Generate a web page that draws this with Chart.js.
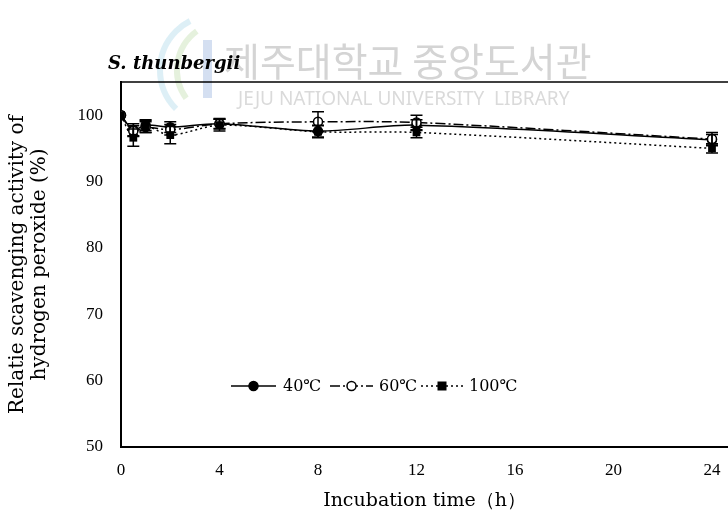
<!DOCTYPE html>
<html>
<head>
<meta charset="utf-8">
<script src="https://cdn.jsdelivr.net/npm/chart.js@4"></script>
<style>
  html, body { margin: 0; padding: 0; background: #fff; overflow: hidden; }
  #wrap { width: 728px; height: 516px; overflow: hidden; }
</style>
</head>
<body>
<div id="wrap"><canvas id="chart" width="734" height="516"></canvas></div>
<script>
// incubation time (h) and relative scavenging activity (%)
const hours = [0, 0.5, 1, 2, 4, 8, 12, 24];
const t40 = [100, 97.8, 98.5, 98.2, 98.7, 97.6, 98.5, 96.3];
const t60 = [100, 97.6, 98.2, 97.8, 98.7, 99.0, 98.9, 96.4];
const t100 = [100, 96.6, 98.3, 97.0, 98.5, 97.5, 97.4, 95.0];
const err40 = [0, 0.9, 0.8, 0.8, 0.7, 0.9, 0.8, 0.8];
const err60 = [0, 0.8, 0.8, 0.8, 0.8, 1.5, 1.1, 1.0];
const err100 = [0, 1.3, 0.9, 1.3, 0.9, 0.9, 0.8, 0.7];
const xTicks = [0, 4, 8, 12, 16, 20, 24];
const yTicks = [50, 60, 70, 80, 90, 100];
const seriesNames = ["40℃", "60℃", "100℃"];

const serif = "'DejaVu Serif', 'Liberation Serif', serif";
const tickFont = "'Liberation Serif', serif";

function pts(vals) {
    return hours.map((h, i) => ({ x: h, y: vals[i] }));
}

// watermark + title behind the chart
const backdrop = {
    id: "backdrop",
    beforeDraw(chart) {
        const ctx = chart.ctx;
        ctx.save();
        ctx.fillStyle = "#fff";
        ctx.fillRect(0, 0, chart.width, chart.height);
        // faint logo arcs
        ctx.lineWidth = 6;
        ctx.strokeStyle = "rgba(120,190,220,0.25)";
        ctx.beginPath();
        ctx.arc(215, 70, 55, Math.PI * 0.75, Math.PI * 1.35);
        ctx.stroke();
        ctx.strokeStyle = "rgba(150,200,120,0.25)";
        ctx.beginPath();
        ctx.arc(225, 70, 48, Math.PI * 0.8, Math.PI * 1.3);
        ctx.stroke();
        ctx.fillStyle = "rgba(60,110,190,0.22)";
        ctx.fillRect(203, 40, 9, 58);
        ctx.fillStyle = "#d4d4d4";
        ctx.font = "39px 'Noto Sans CJK KR'";
        ctx.textBaseline = "alphabetic";
        ctx.fillText("제주대학교 중앙도서관", 224, 76);
        ctx.fillStyle = "#dadada";
        ctx.font = "19px 'Noto Sans', sans-serif";
        ctx.fillText("JEJU NATIONAL UNIVERSITY  LIBRARY", 238, 105);
        ctx.restore();
        // species title
        ctx.save();
        ctx.fillStyle = "#000";
        ctx.font = "italic bold 18px " + serif;
        ctx.fillText("S. thunbergii", 108, 69);
        ctx.restore();
    }
};

// error bars with caps
const errorBars = {
    id: "errorBars",
    afterDatasetsDraw(chart) {
        const ctx = chart.ctx;
        const errs = [err40, err60, err100];
        const ys = chart.scales.y;
        ctx.save();
        ctx.strokeStyle = "#000";
        ctx.lineWidth = 1.5;
        chart.data.datasets.forEach((ds, di) => {
            const meta = chart.getDatasetMeta(di);
            meta.data.forEach((p, i) => {
                const e = errs[di][i];
                if (!e) return;
                const v = ds.data[i].y;
                const top = ys.getPixelForValue(v + e);
                const bot = ys.getPixelForValue(v - e);
                ctx.beginPath();
                ctx.moveTo(p.x, top); ctx.lineTo(p.x, bot);
                ctx.moveTo(p.x - 6, top); ctx.lineTo(p.x + 6, top);
                ctx.moveTo(p.x - 6, bot); ctx.lineTo(p.x + 6, bot);
                ctx.stroke();
            });
        });
        ctx.restore();
    }
};

// legend inside the plot
const innerLegend = {
    id: "innerLegend",
    afterDraw(chart) {
        const ctx = chart.ctx;
        const y = 386;
        const items = [
            { x0: 231, x1: 276, dash: [], style: "circle", fill: "#000", tx: 283 },
            { x0: 330, x1: 373, dash: [10, 3, 2, 3], style: "circle", fill: "#fff", tx: 379 },
            { x0: 421, x1: 463, dash: [2, 3], style: "rect", fill: "#000", tx: 469 }
        ];
        ctx.save();
        items.forEach((it, i) => {
            ctx.strokeStyle = "#000";
            ctx.lineWidth = 1.5;
            ctx.setLineDash(it.dash);
            ctx.beginPath();
            ctx.moveTo(it.x0, y); ctx.lineTo(it.x1, y);
            ctx.stroke();
            ctx.setLineDash([]);
            const cx = (it.x0 + it.x1) / 2;
            ctx.fillStyle = it.fill;
            if (it.style === "circle") {
                ctx.beginPath();
                ctx.arc(cx, y, 4.5, 0, Math.PI * 2);
                ctx.fill();
                ctx.stroke();
            } else {
                ctx.fillRect(cx - 4.5, y - 4.5, 9, 9);
            }
            ctx.fillStyle = "#000";
            ctx.font = "16px " + serif;
            ctx.textBaseline = "middle";
            ctx.fillText(seriesNames[i], it.tx, y + 1);
        });
        ctx.restore();
    }
};

const common = {
    borderColor: "#000",
    borderWidth: 1.5,
    tension: 0.3,
    pointBorderColor: "#000",
    pointBorderWidth: 1.5
};

new Chart(document.getElementById("chart"), {
    type: "scatter",
    data: {
        datasets: [
            Object.assign({}, common, {
                label: seriesNames[0], data: pts(t40), showLine: true, order: 2,
                pointStyle: "circle", pointRadius: 4.5, pointBackgroundColor: "#000"
            }),
            Object.assign({}, common, {
                label: seriesNames[1], data: pts(t60), showLine: true, order: 1,
                borderDash: [10, 3, 2, 3],
                pointStyle: "circle", pointRadius: 4.5, pointBackgroundColor: "#fff"
            }),
            Object.assign({}, common, {
                label: seriesNames[2], data: pts(t100), showLine: true, order: 0,
                borderDash: [2, 3],
                pointStyle: "rect", pointRadius: 5.5, pointBackgroundColor: "#000", pointBorderWidth: 0
            })
        ]
    },
    options: {
        responsive: false,
        animation: false,
        layout: { padding: { top: 82, right: 0, left: 0, bottom: 0 } },
        plugins: { legend: { display: false }, tooltip: { enabled: false } },
        scales: {
            x: {
                type: "linear",
                min: 0,
                max: 24.65,
                afterBuildTicks: s => { s.ticks = xTicks.map(v => ({ value: v })); },
                afterFit: s => { s.height = 69; },
                ticks: { color: "#000", font: { family: tickFont, size: 17 }, padding: 7 },
                grid: { display: false, drawTicks: true, tickLength: 6, tickColor: "#000" },
                border: { color: "#000", width: 2 },
                title: {
                    display: true, text: "Incubation time（h）", color: "#000",
                    font: { family: serif, size: 19 }, padding: { top: 0 }
                }
            },
            y: {
                min: 50,
                max: 105,
                afterBuildTicks: s => { s.ticks = yTicks.map(v => ({ value: v })); },
                afterFit: s => { s.width = 121; },
                ticks: { color: "#000", font: { family: tickFont, size: 17 }, padding: 12 },
                grid: { display: false, drawTicks: true, tickLength: 6, tickColor: "#000" },
                border: { color: "#000", width: 2 },
                title: {
                    display: true,
                    text: ["Relatie scavenging activity of", "hydrogen peroxide (%)"],
                    color: "#000",
                    font: { family: serif, size: 20, lineHeight: 1.1 },
                    padding: { top: 7, bottom: 4 }
                }
            }
        }
    },
    plugins: [backdrop, errorBars, innerLegend,
        {
            id: "topBorder",
            afterDraw(chart) {
                const a = chart.chartArea, ctx = chart.ctx;
                ctx.save();
                ctx.strokeStyle = "#000";
                ctx.lineWidth = 1.5;
                ctx.beginPath();
                ctx.moveTo(a.left, a.top); ctx.lineTo(a.right, a.top);
                ctx.stroke();
                ctx.restore();
            }
        }]
});
</script>
</body>
</html>
